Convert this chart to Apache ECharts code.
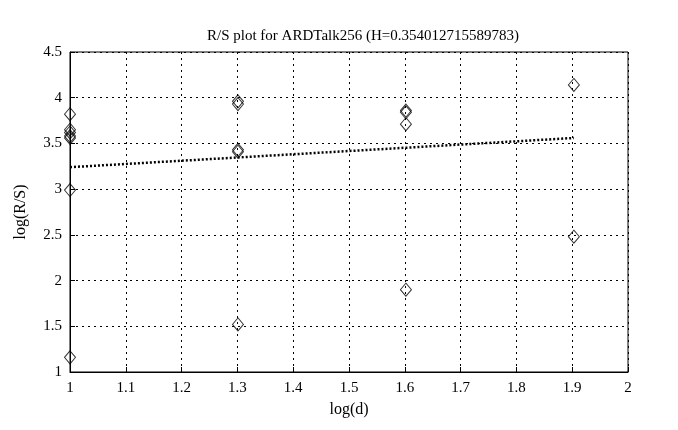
<!DOCTYPE html>
<html><head><meta charset="utf-8">
<script src="https://cdn.jsdelivr.net/npm/echarts@6/dist/echarts.min.js"></script>
<style>html,body{margin:0;padding:0;background:#fff}#c{width:678px;height:430px}</style>
</head><body><div id="c"></div>
<script>
const title = 'R/S plot for ARDTalk256 (H=0.354012715589783)';
const xTicks = [1, 1.1, 1.2, 1.3, 1.4, 1.5, 1.6, 1.7, 1.8, 1.9, 2];
const yTicks = [1, 1.5, 2, 2.5, 3, 3.5, 4, 4.5];
const logD = [1, 1, 1, 1, 1, 1, 1,
              1.301, 1.301, 1.301, 1.301, 1.301,
              1.602, 1.602, 1.602, 1.602,
              1.903, 1.903];
const logRS = [3.82, 3.65, 3.62, 3.58, 3.56, 2.99, 1.16,
               3.96, 3.93, 3.43, 3.41, 1.52,
               3.86, 3.84, 3.71, 1.90,
               4.14, 2.48];
const fitX = [1, 1.903];
const fitY = [3.24, 3.24 + 0.354012715589783 * 0.903];

const font = 'Liberation Serif';
const chart = echarts.init(document.getElementById('c'));
chart.setOption({
  backgroundColor: '#fff',
  animation: false,
  title: { text: title, left: 358, top: 24, textAlign: 'center',
    textStyle: { fontFamily: font, fontSize: 15, fontWeight: 'normal', color: '#000' } },
  grid: { left: 70, right: 50, top: 52, bottom: 58, show: true, borderColor: '#000', borderWidth: 1 },
  xAxis: { type: 'value', min: 1, max: 2, interval: 0.1,
    name: 'log(d)', nameLocation: 'middle', nameGap: 30,
    nameTextStyle: { fontFamily: font, fontSize: 16, color: '#000' },
    axisLine: { show: true, lineStyle: { color: '#000' } },
    axisTick: { show: true, inside: true, length: 5, lineStyle: { color: '#000' } },
    axisLabel: { fontFamily: font, fontSize: 15, color: '#000', margin: 9,
      formatter: v => String(Math.round(v * 10) / 10) },
    splitLine: { show: true, lineStyle: { color: '#000', type: [2, 4], width: 1 } } },
  yAxis: { type: 'value', min: 1, max: 4.5, interval: 0.5,
    name: 'log(R/S)', nameLocation: 'middle', nameGap: 41,
    nameTextStyle: { fontFamily: font, fontSize: 16, color: '#000' },
    axisLine: { show: true, lineStyle: { color: '#000' } },
    axisTick: { show: true, inside: true, length: 5, lineStyle: { color: '#000' } },
    axisLabel: { fontFamily: font, fontSize: 15, color: '#000', margin: 8 },
    splitLine: { show: true, lineStyle: { color: '#000', type: [2, 4], width: 1 } } },
  series: [
    { type: 'scatter', data: logD.map((x, i) => [x, logRS[i]]),
      symbol: 'diamond', symbolSize: [11, 13],
      itemStyle: { color: 'rgba(0,0,0,0)', borderColor: '#000', borderWidth: 1 } },
    { type: 'line', data: fitX.map((x, i) => [x, fitY[i]]), symbol: 'none',
      lineStyle: { color: '#000', width: 2.5, type: [2, 2] } }
  ]
});
</script></body></html>
